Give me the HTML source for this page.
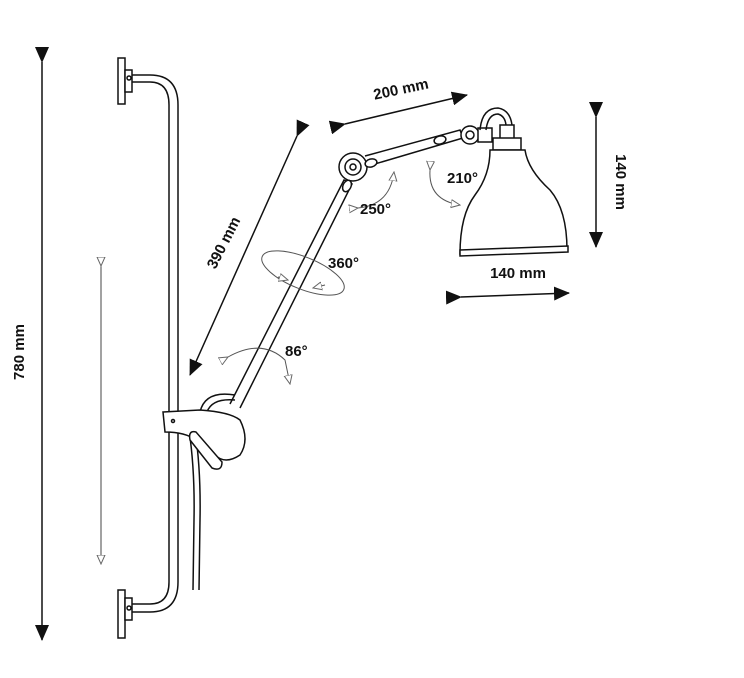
<!DOCTYPE html>
<html><head><meta charset="utf-8"><style>
html,body{margin:0;padding:0;background:#fff;}
svg{display:block;}
text{font-family:"Liberation Sans",sans-serif;font-weight:bold;font-size:15px;fill:#111;}
</style></head><body>
<svg width="744" height="678" viewBox="0 0 744 678" xmlns="http://www.w3.org/2000/svg">
<defs>
<marker id="as" markerWidth="16" markerHeight="14" refX="15" refY="7" orient="auto" markerUnits="userSpaceOnUse"><path d="M0,0 L16,7 L0,14 Z" fill="#111"/></marker>
<marker id="h" markerWidth="10" markerHeight="10" refX="9" refY="5" orient="auto" markerUnits="userSpaceOnUse"><path d="M0,1 L9,5 L0,9 Z" fill="#fff" stroke="#666" stroke-width="1"/></marker>
</defs>
<g stroke="#111" stroke-width="1.5" fill="none">
<line x1="42" y1="62" x2="42" y2="640" marker-start="url(#as)" marker-end="url(#as)"/>
<line x1="101" y1="266" x2="101" y2="564" stroke="#444" stroke-width="1" marker-start="url(#h)" marker-end="url(#h)"/>
<path d="M130,75 L150,75 Q178,75 178,105 L178,582 Q178,612 150,612 L130,612"/>
<path d="M130,82 L150,82 Q169,82 169,105 L169,582 Q169,604 150,604 L130,604"/>
<rect x="118" y="58" width="7" height="46" fill="#fff"/>
<rect x="125" y="70" width="7" height="22" fill="#fff"/>
<circle cx="129" cy="78" r="2"/>
<rect x="118" y="590" width="7" height="48" fill="#fff"/>
<rect x="125" y="598" width="7" height="22" fill="#fff"/>
<circle cx="129" cy="608" r="2"/>
<path d="M189,430 Q195,470 194,520 L193,590"/>
<path d="M195,430 Q201,470 200,520 L199,590"/>
<path d="M230,404 L344,180 L352,184 L240,408"/>
<path d="M200,412 Q205,390 235,395"/>
<path d="M207,412 Q212,398 235,400"/>
<path d="M163,412 L200,410 Q230,412 240,420 Q250,440 240,455 Q225,465 215,455 L196,440 Q185,432 165,432 Z" fill="#fff"/>
<circle cx="173" cy="421" r="1.5"/>
<path d="M190,440 Q188,430 196,432 L222,462 Q222,472 212,468 Z" fill="#fff"/>
<circle cx="353" cy="167" r="14" fill="#fff"/>
<circle cx="353" cy="167" r="8"/>
<circle cx="353" cy="167" r="3"/>
<ellipse cx="347" cy="186" rx="4" ry="6" transform="rotate(25 347 186)" fill="#fff"/>
<path d="M365,156 L460,130 L463,138 L368,166" fill="#fff"/>
<ellipse cx="371" cy="163" rx="6" ry="4" transform="rotate(-15 371 163)" fill="#fff"/>
<ellipse cx="440" cy="140" rx="6" ry="4" transform="rotate(-15 440 140)" fill="#fff"/>
<circle cx="470" cy="135" r="9" fill="#fff"/>
<circle cx="470" cy="135" r="4"/>
<rect x="478" y="128" width="14" height="14" fill="#fff"/>
<path d="M480,130 Q482,108 498,108 Q510,110 512,125"/>
<path d="M486,130 Q488,114 498,114 Q505,116 506,125"/>
<rect x="500" y="125" width="14" height="14" fill="#fff"/>
<rect x="493" y="138" width="28" height="12" fill="#fff"/>
<path d="M490,150 L525,150 Q528,170 550,190 Q567,210 567,250 L460,254 Q460,215 475,195 Q490,175 490,150 Z" fill="#fff"/>
<path d="M460,250 L568,246 L568,252 L460,256 Z" fill="#fff"/>
<line x1="297" y1="136" x2="190" y2="375" marker-start="url(#as)" marker-end="url(#as)"/>
<line x1="345" y1="124" x2="467" y2="95" marker-start="url(#as)" marker-end="url(#as)"/>
<line x1="596" y1="117" x2="596" y2="247" marker-start="url(#as)" marker-end="url(#as)"/>
<line x1="461" y1="297" x2="569" y2="293" marker-start="url(#as)" marker-end="url(#as)"/>
</g>
<g stroke="#555" stroke-width="1" fill="none">
<path d="M358,208 Q390,205 394,172" marker-start="url(#h)" marker-end="url(#h)"/>
<path d="M430,170 Q428,200 460,205" marker-start="url(#h)" marker-end="url(#h)"/>
<ellipse cx="303" cy="273" rx="44" ry="16" transform="rotate(22 303 273)"/>
<path d="M278,277 L288,280" marker-end="url(#h)"/>
<path d="M325,285 L313,288" marker-end="url(#h)"/>
<path d="M228,357 Q262,338 285,360 L290,384" marker-start="url(#h)" marker-end="url(#h)"/>
</g>
<text transform="translate(24,352) rotate(-90)" text-anchor="middle">780 mm</text>
<text transform="translate(228,245) rotate(-63)" text-anchor="middle">390 mm</text>
<text transform="translate(402,94) rotate(-12)" text-anchor="middle">200 mm</text>
<text transform="translate(616,182) rotate(90)" text-anchor="middle">140 mm</text>
<text x="518" y="278" text-anchor="middle">140 mm</text>
<text x="328" y="268">360°</text>
<text x="285" y="356">86°</text>
<text x="360" y="214">250°</text>
<text x="447" y="183">210°</text>
</svg>
</body></html>
